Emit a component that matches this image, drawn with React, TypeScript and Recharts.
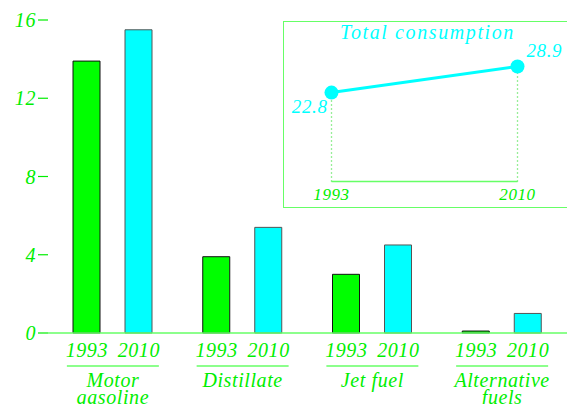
import { BarChart, Bar, XAxis, YAxis, LineChart, Line, ReferenceLine, LabelList } from 'recharts';

const categoryLines = [['Motor', 'gasoline'], ['Distillate'], ['Jet fuel'], ['Alternative', 'fuels']];
const years = ['1993', '2010'];
const values1993 = [13.9, 3.9, 3.0, 0.1];
const values2010 = [15.5, 5.4, 4.5, 1.0];
const yTicks = [0, 4, 8, 12, 16];

const totalYears = ['1993', '2010'];
const totalValues = [22.8, 28.9];

const FONT = '"Liberation Serif", "DejaVu Serif", serif';
const TEXT_GREEN = '#00ee00';
const LINE_GREEN = '#66ff66';
const CYAN = '#00ffff';

const barData = categoryLines.map((lines, i) => ({
	name: lines.join(' '),
	v1993: values1993[i],
	v2010: values2010[i],
}));

const totalData = totalYears.map((year, i) => ({ year, value: totalValues[i] }));

const textStyle = { fontFamily: FONT, fontStyle: 'italic', fontSize: 20, letterSpacing: 0.6 } as const;

function CategoryTick(props: any) {
	const { x, y, index } = props;
	const lines = categoryLines[index] || [];
	return (
		<g transform={`translate(${x},${y})`}>
			<text x={-26} y={22} textAnchor='middle' fill={TEXT_GREEN} style={textStyle}>
				{years[0]}
			</text>
			<text x={26} y={22} textAnchor='middle' fill={TEXT_GREEN} style={textStyle}>
				{years[1]}
			</text>
			<line x1={-46} x2={46} y1={31} y2={31} stroke={LINE_GREEN} strokeWidth={1.5} />
			{lines.map((t, i) => (
				<text key={t} x={0} y={52 + i * 17} textAnchor='middle' fill={TEXT_GREEN} style={textStyle}>
					{t}
				</text>
			))}
		</g>
	);
}

function YearTick(props: any) {
	const { x, y, payload } = props;
	return (
		<text x={x} y={y + 18} textAnchor='middle' fill={TEXT_GREEN} style={{ ...textStyle, fontSize: 17 }}>
			{payload.value}
		</text>
	);
}

function TotalLabel(props: any) {
	const { x, y, value, index } = props;
	const left = index === 0;
	return (
		<text
			x={left ? x - 4 : x + 9}
			y={left ? y + 20 : y - 10}
			textAnchor={left ? 'end' : 'start'}
			fill={CYAN}
			style={{ ...textStyle, fontSize: 19 }}>
			{value}
		</text>
	);
}

export default function App() {
	return (
		<div style={{ position: 'relative', width: 567, height: 404, overflow: 'hidden', background: '#fff' }}>
			<style>{'body { margin: 0; }'}</style>
			<BarChart
				width={567}
				height={404}
				data={barData}
				margin={{ top: 20, right: 0, left: 0, bottom: 0 }}
				barSize={27}
				barGap={25}>
				<XAxis
					dataKey='name'
					height={71}
					interval={0}
					tickLine={false}
					tickSize={0}
					axisLine={{ stroke: LINE_GREEN, strokeWidth: 1.5 }}
					tick={<CategoryTick />}
				/>
				<YAxis
					width={48}
					domain={[0, 16]}
					ticks={yTicks}
					axisLine={false}
					tickSize={10}
					tickLine={{ stroke: TEXT_GREEN, strokeWidth: 1.2 }}
					tick={{ fill: TEXT_GREEN, ...textStyle }}
				/>
				<Bar dataKey='v1993' fill='#00ff00' stroke='#111' strokeWidth={1} isAnimationActive={false} />
				<Bar dataKey='v2010' fill={CYAN} stroke='#555' strokeWidth={1} isAnimationActive={false} />
			</BarChart>

			<div
				style={{
					position: 'absolute',
					left: 283,
					top: 21,
					width: 300,
					height: 185,
					border: `1.5px solid ${LINE_GREEN}`,
					borderRight: 'none',
				}}>
				<div
					style={{
						position: 'absolute',
						left: 0,
						top: 0,
						width: 287,
						textAlign: 'center',
						color: CYAN,
						lineHeight: '20px',
						...textStyle,
						letterSpacing: 1.6,
					}}>
					Total consumption
				</div>
				<LineChart width={290} height={185} data={totalData} margin={{ top: 39.8, right: 56.5, left: 47.5, bottom: 0 }}>
					<XAxis
						dataKey='year'
						height={25.5}
						tickLine={false}
						tickSize={0}
						tickMargin={0}
						axisLine={{ stroke: LINE_GREEN, strokeWidth: 1.5 }}
						tick={<YearTick />}
					/>
					<YAxis hide domain={[2, 30]} />
					{totalData.map(d => (
						<ReferenceLine
							key={d.year}
							segment={[
								{ x: d.year, y: 2 },
								{ x: d.year, y: d.value },
							]}
							stroke='#33dd33'
							strokeWidth={1.3}
							strokeDasharray='1 3'
						/>
					))}
					<Line
						dataKey='value'
						type='linear'
						stroke={CYAN}
						strokeWidth={3}
						dot={{ r: 7, fill: CYAN, stroke: 'none' }}
						isAnimationActive={false}>
						<LabelList dataKey='value' content={<TotalLabel />} />
					</Line>
				</LineChart>
			</div>
		</div>
	);
}
